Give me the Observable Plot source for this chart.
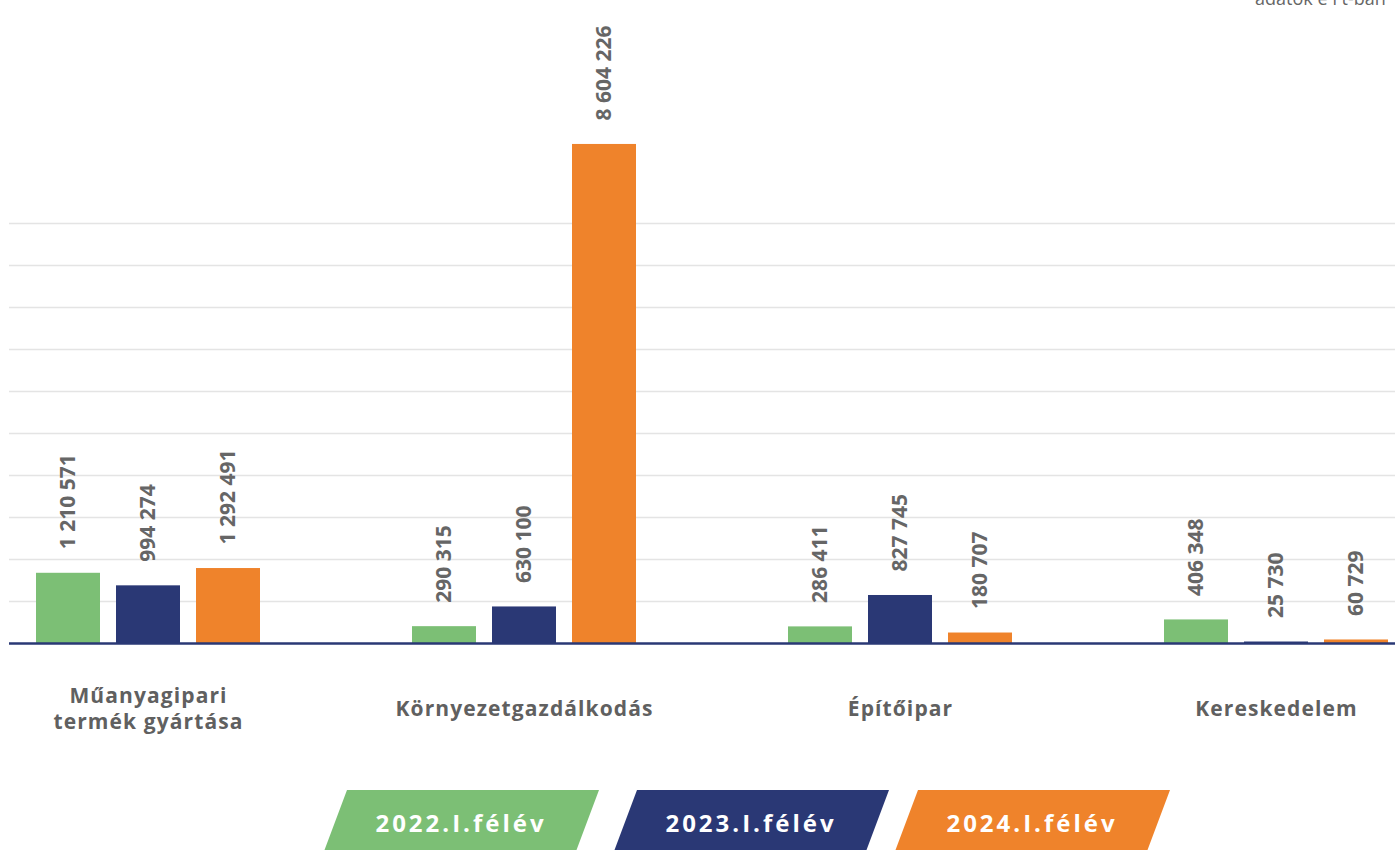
<!DOCTYPE html>
<html>
<head>
<meta charset="utf-8">
<script src="https://cdn.jsdelivr.net/npm/d3@7"></script>
<script src="https://cdn.jsdelivr.net/npm/@observablehq/plot@0.6"></script>
<style>
  html, body { margin: 0; padding: 0; background: #fff; overflow: hidden; }
  body { font-family: "Open Sans", sans-serif; }
  #wrap { position: relative; width: 1395px; height: 850px; overflow: hidden; }
  #unit { position: absolute; top: -11px; left: 1255px; font-size: 18px; line-height: 18px; color: #666; white-space: nowrap; }
  #chart { position: absolute; top: 0; left: 0; }
  #legend { position: absolute; top: 790px; left: 0; width: 1395px; height: 64px; }
  .sw { position: absolute; top: 0; height: 64px; width: 276px;
        clip-path: polygon(24px 0, 100% 0, calc(100% - 24px) 100%, 0 100%);
        color: #fff; font-weight: 700; font-size: 24px; letter-spacing: 3px;
        display: flex; align-items: center; justify-content: center; }
</style>
</head>
<body>
<div id="wrap">
  <div id="chart"></div>
  <div id="unit"></div>
  <div id="legend"></div>
</div>
<script>
// ---- data ----
const categories = ["Műanyagipari termék gyártása", "Környezetgazdálkodás", "Építőipar", "Kereskedelem"];
const categoryLabels = ["Műanyagipari\ntermék gyártása", "Környezetgazdálkodás", "Építőipar", "Kereskedelem"];
const series = ["2022.I.félév", "2023.I.félév", "2024.I.félév"];
const colors = ["#7cbf75", "#2a3875", "#ef832b"];
const v2022 = [1210571, 290315, 286411, 406348];
const v2023 = [994274, 630100, 827745, 25730];
const v2024 = [1292491, 8604226, 180707, 60729];
const gridValues = [724000, 1448000, 2172000, 2896000, 3620000, 4344000, 5068000, 5792000, 6516000, 7240000];
const unitNote = "adatok e Ft-ban";

const seriesValues = [v2022, v2023, v2024];
const data = categories.flatMap((c, i) => series.map((s, j) => ({category: c, series: s, value: seriesValues[j][i]})));
const fmt = v => d3.format(",")(v).replace(/,/g, " ");

const plot = Plot.plot({
  width: 1395,
  height: 770,
  marginLeft: 35,
  marginRight: 7,
  marginTop: 63,
  marginBottom: 127,
  style: {fontFamily: "'Open Sans', sans-serif", background: "transparent"},
  fx: {domain: categories, paddingInner: 0.4046, paddingOuter: 0, axis: null},
  x: {domain: series, paddingInner: 0.2, paddingOuter: 0, axis: null},
  y: {domain: [0, 10000000], axis: null},
  color: {domain: series, range: colors},
  marks: [
    Plot.ruleY(gridValues, {y: d => d, fx: () => categories[0], stroke: "#e4e4e4", strokeWidth: 1.5, insetLeft: -27, insetRight: -1136}),
    Plot.barY(data, {fx: "category", x: "series", y: "value", fill: "series"}),
    Plot.ruleY([0], {fx: () => categories[0], stroke: "#2a3875", strokeWidth: 2.5, insetLeft: -27, insetRight: -1136}),
    Plot.text(data, {fx: "category", x: "series", y: "value", text: d => fmt(d.value), rotate: -90, textAnchor: "start", dy: -24, fill: "#666", fontSize: 21, fontWeight: 700}),
    Plot.text(categories, {fx: d => d, text: (d, i) => categoryLabels[i], frameAnchor: "bottom", lineAnchor: "middle", dy: 64, fill: "#606060", fontSize: 21, fontWeight: 700, lineHeight: 1.25})
  ]
});
// letter spacing for the category labels (last text mark)
const textGroups = plot.querySelectorAll('g[aria-label="text"]');
if (textGroups.length) textGroups[textGroups.length - 1].style.letterSpacing = "1.1px";
document.getElementById("chart").appendChild(plot);
document.getElementById("unit").textContent = unitNote;

const legend = document.getElementById("legend");
const lefts = [323, 613, 894];
series.forEach((s, i) => {
  const d = document.createElement("div");
  d.className = "sw";
  d.style.left = lefts[i] + "px";
  d.style.background = colors[i];
  d.textContent = s;
  legend.appendChild(d);
});
</script>
</body>
</html>
